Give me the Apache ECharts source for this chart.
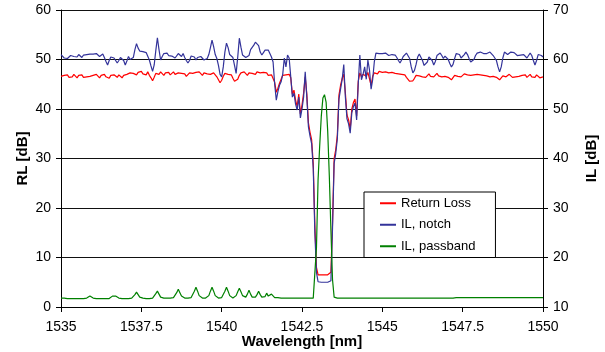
<!DOCTYPE html>
<html>
<head>
<meta charset="utf-8">
<script src="https://cdn.jsdelivr.net/npm/echarts@6/dist/echarts.min.js"></script>
<style>
  html, body { margin: 0; padding: 0; background: #fff; }
  #chart { width: 605px; height: 352px; }
</style>
</head>
<body>
<div id="chart"></div>
<script>
// wavelength grid: 1535 .. 1550 nm, one sample every 0.05 nm (301 points)
var wlStart = 1535
var wlStep = 0.05
var xTicks = [1535, 1537.5, 1540, 1542.5, 1545, 1547.5, 1550]

// Return Loss [dB], left axis
var returnLoss = [
  46.6, 46.3, 46.8, 46.5, 46.9, 46.4, 46.7, 46.5, 47.0, 46.6, 46.3, 46.8, 46.6, 46.9, 46.4, 46.7, 46.5, 46.9, 46.6, 46.4,
  46.8, 46.5, 47.0, 46.6, 46.3, 46.8, 46.6, 47.0, 46.5, 46.7, 46.2, 46.8, 46.5, 46.9, 46.6, 46.4, 46.9, 46.7, 46.3, 46.8,
  46.6, 47.0, 46.7, 47.3, 46.9, 47.2, 47.5, 46.9, 47.4, 47.0, 47.6, 47.1, 47.4, 46.9, 47.5, 46.8, 46.3, 45.7, 46.4, 47.2,
  47.4, 47.0, 47.5, 47.1, 46.8, 47.3, 47.0, 47.4, 46.9, 47.2, 47.5, 47.0, 46.7, 47.3, 46.9, 47.2, 46.8, 47.1, 46.6, 47.0,
  47.3, 46.9, 47.2, 46.8, 47.4, 47.0, 47.5, 47.1, 46.8, 47.3, 47.6, 47.1, 47.4, 47.0, 46.8, 47.3, 46.9, 46.5, 45.9, 45.3,
  45.8, 46.6, 47.2, 47.4, 47.0, 47.3, 46.9, 46.2, 45.6, 45.3, 46.0, 46.8, 47.3, 47.0, 47.5, 47.1, 46.8, 47.3, 47.6, 47.2,
  47.4, 47.0, 47.5, 47.1, 47.3, 46.9, 47.4, 47.0, 47.3, 46.8, 47.2, 46.9, 46.6, 45.4, 43.4, 44.2, 45.2, 46.0, 46.8, 47.0,
  46.9, 47.3, 47.0, 46.3, 43.0, 43.8, 41.8, 40.5, 43.0, 39.0, 40.8, 43.2, 46.5, 43.0, 37.2, 35.3, 33.8, 29.0, 16.5, 8.0,
  6.5, 6.6, 6.5, 6.6, 6.5, 6.6, 6.5, 6.6, 7.0, 17.0, 30.0, 31.8, 34.8, 42.8, 44.8, 46.2, 47.0, 43.2, 38.8, 37.8,
  35.9, 40.0, 41.3, 42.0, 38.6, 45.6, 47.3, 46.5, 47.0, 47.2, 46.6, 47.4, 47.0, 44.8, 46.6, 47.3, 47.5, 47.1, 47.6, 47.2,
  47.4, 47.0, 47.5, 47.1, 47.3, 46.9, 47.4, 47.0, 47.2, 46.8, 47.1, 46.7, 47.0, 46.6, 46.9, 46.4, 46.0, 45.6, 45.4, 45.7,
  46.2, 46.8, 47.1, 46.7, 47.0, 46.5, 46.9, 46.4, 46.8, 47.1, 46.6, 46.9, 46.5, 46.8, 47.2, 46.7, 47.0, 46.5, 46.9, 46.6,
  46.9, 46.4, 46.0, 45.9, 46.3, 46.8, 47.0, 46.6, 46.9, 46.5, 46.8, 47.1, 46.7, 46.9, 46.5, 46.8, 46.4, 46.9, 46.7, 47.0,
  46.6, 46.9, 46.5, 46.8, 47.1, 46.7, 46.9, 46.5, 46.8, 46.6, 46.9, 46.4, 46.2, 45.9, 46.2, 46.7, 46.9, 46.5, 46.8, 47.0,
  46.7, 46.4, 46.8, 46.5, 46.9, 46.6, 46.3, 46.8, 46.5, 46.9, 46.4, 46.7, 47.0, 46.5, 46.8, 46.4, 46.9, 46.6, 46.3, 46.7, 46.5
]

// IL, notch [dB], right axis
var ilNotch = [
  61.0, 60.7, 60.3, 60.6, 60.2, 60.5, 60.8, 60.4, 60.6, 60.2, 60.5, 61.0, 60.7, 60.4, 60.9, 61.3, 61.0, 61.4, 61.1, 60.8,
  61.1, 60.9, 61.2, 60.8, 60.6, 60.9, 61.1, 60.4, 59.6, 58.9, 59.8, 60.5, 60.8, 60.3, 59.8, 59.3, 59.8, 60.4, 60.7, 59.8,
  58.9, 59.7, 60.6, 60.0, 59.6, 60.4, 62.0, 63.2, 62.3, 61.7, 61.8, 61.6, 61.8, 61.4, 61.2, 59.9, 58.7, 57.6, 58.9, 61.8,
  64.4, 62.0, 59.9, 60.6, 61.2, 61.0, 61.3, 60.8, 61.1, 60.7, 61.0, 60.3, 60.6, 61.2, 61.0, 60.6, 61.2, 60.4, 59.8, 59.3,
  59.8, 60.7, 61.0, 60.5, 59.9, 60.4, 60.8, 60.6, 60.2, 59.9, 59.8, 60.2, 61.0, 62.4, 63.9, 62.6, 61.0, 60.2, 58.8, 57.0,
  56.5, 58.5, 61.5, 63.3, 62.4, 61.0, 60.6, 60.4, 58.8, 57.2, 60.5, 64.3, 62.5, 60.9, 60.9, 60.4, 60.0, 60.8, 62.0, 62.4,
  62.9, 63.5, 63.9, 62.8, 61.5, 60.9, 61.4, 61.9, 61.6, 61.9, 61.5, 60.5, 59.5, 55.0, 51.8, 53.5, 54.8, 55.5, 57.0, 60.3,
  58.5, 60.9, 60.3, 56.5, 52.4, 53.2, 51.0, 49.8, 52.4, 48.2, 50.0, 52.4, 57.5, 52.4, 46.4, 44.5, 43.0, 38.0, 25.0, 17.0,
  15.1, 15.1, 15.0, 15.1, 15.0, 15.1, 15.0, 15.1, 15.3, 26.0, 39.0, 41.0, 44.0, 52.0, 54.0, 56.0, 59.0, 52.4, 48.0, 47.0,
  45.1, 49.2, 50.5, 51.2, 47.8, 55.0, 60.9, 55.9, 57.0, 58.5, 56.0, 59.9, 57.9, 54.0, 56.0, 59.5, 61.3, 61.0, 61.2, 60.9,
  61.2, 61.0, 61.3, 61.1, 60.8, 61.2, 61.0, 61.3, 60.9, 60.4, 59.8, 59.3, 59.9, 60.6, 61.0, 61.3, 61.2, 60.2, 58.5, 57.3,
  57.8, 59.0, 60.5, 61.1, 60.8, 59.8, 58.8, 58.5, 59.5, 60.5, 60.9, 59.8, 58.9, 59.6, 60.8, 61.0, 61.3, 60.8, 60.2, 60.7,
  60.6, 60.0, 59.2, 58.5, 59.0, 60.2, 61.2, 61.5, 61.0, 60.3, 60.0, 61.0, 61.5, 61.0, 60.2, 59.5, 59.3, 60.0, 60.8, 61.3,
  61.4, 61.5, 61.5, 61.2, 61.0, 61.2, 61.4, 61.5, 61.2, 60.8, 60.5, 59.8, 58.5, 57.5, 58.5, 60.3, 61.5, 61.3, 61.0, 61.2,
  61.5, 61.2, 61.4, 61.0, 60.8, 61.0, 60.9, 60.5, 61.0, 60.6, 60.3, 60.8, 61.3, 60.8, 59.8, 58.9, 59.8, 61.0, 61.3, 60.8, 60.5
]

// IL, passband [dB], right axis
var ilPassband = [
  11.8, 11.8, 11.8, 11.8, 11.7, 11.7, 11.7, 11.7, 11.7, 11.7, 11.7, 11.7, 11.7, 11.7, 11.7, 11.7, 11.8, 11.9, 12.2, 11.9,
  11.8, 11.7, 11.7, 11.7, 11.7, 11.7, 11.7, 11.7, 11.7, 11.7, 11.7, 11.9, 12.2, 12.6, 12.2, 11.9, 11.8, 11.7, 11.7, 11.7,
  11.7, 11.7, 11.7, 11.7, 11.8, 12.0, 12.5, 13.0, 12.5, 12.0, 11.8, 11.8, 11.8, 11.7, 11.7, 11.7, 11.8, 11.8, 12.1, 12.7,
  13.2, 12.6, 12.0, 11.8, 11.8, 11.8, 11.8, 11.8, 11.8, 11.8, 11.9, 12.2, 12.9, 13.6, 12.9, 12.2, 11.9, 11.8, 11.8, 11.8,
  11.8, 11.9, 12.3, 13.2, 14.0, 13.2, 12.3, 11.9, 11.8, 11.8, 11.8, 11.9, 12.3, 13.2, 14.0, 13.2, 12.3, 11.9, 11.8, 11.8,
  11.9, 12.3, 13.2, 14.0, 13.2, 12.3, 11.9, 11.8, 11.9, 12.3, 13.1, 13.8, 13.1, 12.3, 11.9, 12.0, 12.6, 13.4, 12.6, 12.0,
  11.9, 12.0, 12.5, 13.2, 12.5, 12.0, 11.9, 12.1, 12.8, 12.2, 12.1, 12.6, 12.2, 11.9, 12.1, 11.9, 11.8, 11.8, 11.8, 11.8,
  11.8, 11.8, 11.8, 11.8, 11.8, 11.8, 11.8, 11.8, 11.8, 11.8, 11.8, 11.8, 11.8, 11.8, 11.8, 11.8, 11.8, 11.8, 12.0, 22.0,
  35.7, 42.5, 48.5, 52.2, 52.9, 51.4, 45.5, 36.5, 25.5, 15.5, 12.0, 11.8, 11.8, 11.8, 11.8, 11.8, 11.8, 11.8, 11.8, 11.8,
  11.8, 11.8, 11.8, 11.8, 11.8, 11.8, 11.8, 11.8, 11.8, 11.8, 11.8, 11.8, 11.8, 11.8, 11.8, 11.8, 11.8, 11.8, 11.8, 11.8,
  11.8, 11.8, 11.8, 11.8, 11.8, 11.8, 11.8, 11.8, 11.8, 11.8, 11.8, 11.8, 11.8, 11.8, 11.8, 11.8, 11.8, 11.8, 11.8, 11.8,
  11.8, 11.8, 11.8, 11.8, 11.8, 11.8, 11.8, 11.8, 11.8, 11.8, 11.8, 11.8, 11.8, 11.8, 11.8, 11.8, 11.8, 11.8, 11.8, 11.8,
  11.8, 11.8, 11.8, 11.8, 11.8, 11.9, 11.9, 11.9, 11.9, 11.9, 11.9, 11.9, 11.9, 11.9, 11.9, 11.9, 11.9, 11.9, 11.9, 11.9,
  11.9, 11.9, 11.9, 11.9, 11.9, 11.9, 11.9, 11.9, 11.9, 11.9, 11.9, 11.9, 11.9, 11.9, 11.9, 11.9, 11.9, 11.9, 11.9, 11.9,
  11.9, 11.9, 11.9, 11.9, 11.9, 11.9, 11.9, 11.9, 11.9, 11.9, 11.9, 11.9, 11.9, 11.9, 11.9, 11.9, 11.9, 11.9, 11.9, 11.9, 11.9
]

var font = '"Liberation Sans", Arial, sans-serif'

function withWavelength(values) {
  return values.map(function (v, i) {
    return [+(wlStart + i * wlStep).toFixed(2), v]
  })
}

var chart = echarts.init(document.getElementById('chart'))
chart.setOption({
  animation: false,
  backgroundColor: '#fff',
  // keep the plot box fixed, labels may sit close to the edge
  grid: { left: 61, right: 62, top: 10, bottom: 45, outerBoundsMode: 'none', containLabel: false },
  legend: {
    orient: 'vertical',
    left: 364,
    top: 192,
    padding: [4, 20, 4, 16],
    itemGap: 7,
    itemWidth: 16,
    itemHeight: 2,
    icon: 'rect',
    borderColor: '#000',
    borderWidth: 1,
    backgroundColor: '#fff',
    textStyle: { fontFamily: font, fontSize: 13, color: '#000', lineHeight: 14.5 },
    data: ['Return Loss', 'IL, notch', 'IL, passband']
  },
  xAxis: {
    type: 'value',
    min: xTicks[0],
    max: xTicks[xTicks.length - 1],
    interval: 2.5,
    name: 'Wavelength [nm]',
    nameLocation: 'middle',
    nameGap: 27,
    nameMoveOverlap: false,
    nameTextStyle: { fontFamily: font, fontSize: 15, fontWeight: 'bold', color: '#000' },
    axisLine: { lineStyle: { color: '#000', width: 1 } },
    axisTick: { show: true, inside: false, length: 5, lineStyle: { color: '#000' } },
    axisLabel: {
      margin: 13,
      fontFamily: font, fontSize: 14, color: '#000',
      formatter: function (v) { return String(v) }
    },
    splitLine: { show: false }
  },
  yAxis: [
    {
      type: 'value',
      min: 0, max: 60, interval: 10,
      name: 'RL [dB]',
      nameLocation: 'middle',
      nameRotate: 90,
      nameGap: 31,
      nameMoveOverlap: false,
      nameTextStyle: { fontFamily: font, fontSize: 15, fontWeight: 'bold', color: '#000' },
      axisLine: { show: true, lineStyle: { color: '#000', width: 1 } },
      axisTick: { show: true, inside: false, length: 5, lineStyle: { color: '#000' } },
      axisLabel: { margin: 10, fontFamily: font, fontSize: 14, color: '#000' },
      splitLine: { show: true, lineStyle: { color: '#111', width: 1 } }
    },
    {
      type: 'value',
      position: 'right',
      min: 10, max: 70, interval: 10,
      name: 'IL [dB]',
      nameLocation: 'middle',
      nameRotate: 90,
      nameGap: 41,
      nameMoveOverlap: false,
      nameTextStyle: { fontFamily: font, fontSize: 15, fontWeight: 'bold', color: '#000' },
      axisLine: { show: true, lineStyle: { color: '#000', width: 1 } },
      axisTick: { show: true, inside: false, length: 5, lineStyle: { color: '#000' } },
      axisLabel: { margin: 10, fontFamily: font, fontSize: 14, color: '#000' },
      splitLine: { show: false }
    }
  ],
  series: [
    {
      name: 'Return Loss',
      type: 'line',
      yAxisIndex: 0,
      showSymbol: false,
      color: '#ff0000',
      lineStyle: { color: '#ff0000', width: 1.2 },
      data: withWavelength(returnLoss)
    },
    {
      name: 'IL, notch',
      type: 'line',
      yAxisIndex: 1,
      showSymbol: false,
      color: '#33339a',
      lineStyle: { color: '#33339a', width: 1.2 },
      data: withWavelength(ilNotch)
    },
    {
      name: 'IL, passband',
      type: 'line',
      yAxisIndex: 1,
      showSymbol: false,
      color: '#008000',
      lineStyle: { color: '#008000', width: 1.2 },
      data: withWavelength(ilPassband)
    }
  ]
})
</script>
</body>
</html>
